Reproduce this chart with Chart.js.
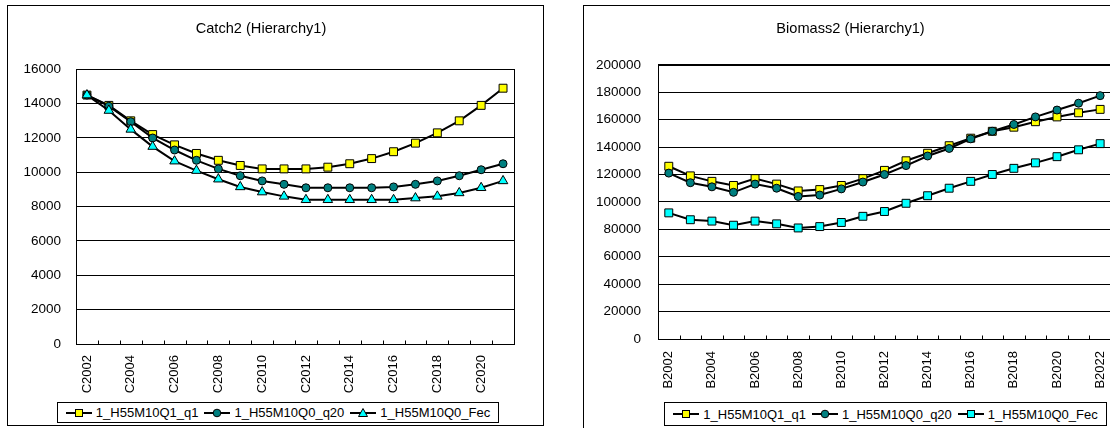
<!DOCTYPE html>
<html>
<head>
<meta charset="utf-8">
<script src="https://cdn.jsdelivr.net/npm/chart.js@4.4.1/dist/chart.umd.min.js"></script>
<style>
  html, body { margin: 0; padding: 0; background: #fff; width: 1110px; height: 428px; overflow: hidden; }
  body { position: relative; font-family: "Liberation Sans", Arial, sans-serif; }
  .box { position: absolute; border: 1px solid #000; box-sizing: border-box; background: #fff; }
  .box canvas { position: absolute; left: 0; top: 0; }
  .legend { position: absolute; border: 1px solid #000; box-sizing: border-box; background: #fff;
            display: flex; align-items: center; justify-content: center; font-size: 13px; color: #000;
            white-space: nowrap; }
  .legend .item { display: flex; align-items: center; margin: 0 3px; }
  .legend svg { margin-right: 4px; }
</style>
</head>
<body>
<div class="box" id="boxCatch" style="left:7px; top:5px; width:537px; height:421px;">
  <canvas id="catchChart" width="535" height="419"></canvas>
</div>
<div class="box" id="boxBio" style="left:583px; top:5px; width:546px; height:428px;">
  <canvas id="bioChart" width="544" height="426"></canvas>
</div>
<div class="legend" id="legCatch" style="left:57px; top:402px; width:442px; height:21px;"></div>
<div class="legend" id="legBio" style="left:664px; top:402px; width:443px; height:24px;"></div>

<script>
// Catch2 (Hierarchy1)
const catchYears = ['C2002','C2003','C2004','C2005','C2006','C2007','C2008','C2009','C2010','C2011',
                    'C2012','C2013','C2014','C2015','C2016','C2017','C2018','C2019','C2020','C2021'];
const catchQ1  = [14500,13900,13000,12200,11600,11100,10700,10400,10200,10200,
                  10200,10300,10500,10800,11200,11700,12300,13000,13900,14900];
const catchQ20 = [14500,13850,12950,12000,11300,10700,10200,9800,9500,9300,
                  9100,9100,9100,9100,9150,9300,9500,9800,10150,10500];
const catchFec = [14500,13600,12500,11500,10650,10100,9600,9150,8850,8600,
                  8400,8400,8400,8400,8400,8500,8600,8800,9100,9500];

// Biomass2 (Hierarchy1)
const bioYears = ['B2002','B2003','B2004','B2005','B2006','B2007','B2008','B2009','B2010','B2011',
                  'B2012','B2013','B2014','B2015','B2016','B2017','B2018','B2019','B2020','B2021','B2022'];
const bioQ1  = [126000,119000,115000,112000,117000,113000,108000,109000,112000,117000,
                123000,130000,135500,141000,146500,151500,154500,158500,162000,165000,167500];
const bioQ20 = [121000,114000,111000,107000,113000,110000,104000,105000,109500,114500,
                120000,126500,133500,139000,146000,151500,156500,162000,167000,172000,177500];
const bioFec = [92000,87000,86000,83000,86000,84000,81000,82000,85000,89500,
                93000,99000,104500,110000,115000,120000,124500,128500,133000,138000,142500];

const seriesNames = ['1_H55M10Q1_q1', '1_H55M10Q0_q20', '1_H55M10Q0_Fec'];
const catchTicks = [0, 2000, 4000, 6000, 8000, 10000, 12000, 14000, 16000];
const bioTicks = [0, 20000, 40000, 60000, 80000, 100000, 120000, 140000, 160000, 180000, 200000];

const FONT = '"Liberation Sans", Arial, sans-serif';
const YELLOW = '#FFFF00', TEAL = '#008080', CYAN = '#00FFFF';

// Plot-area frame and inward category tick marks
const framePlugin = {
  id: 'frame',
  afterDraw(chart) {
    const { ctx, chartArea: a, scales: { x } } = chart;
    ctx.save();
    ctx.strokeStyle = '#000';
    ctx.lineWidth = 1;
    const l = Math.round(a.left) + 0.5, t = Math.round(a.top) + 0.5;
    const r = Math.round(a.right) + 0.5, b = Math.round(a.bottom) + 0.5;
    ctx.strokeRect(l, t, r - l, b - t);
    ctx.beginPath();
    const n = x.getLabels().length;
    for (let i = 0; i <= n; i++) {
      const px = Math.round(x.getPixelForValue(i - 0.5)) + 0.5;
      ctx.moveTo(px, b);
      ctx.lineTo(px, b - 4);
    }
    ctx.stroke();
    ctx.restore();
  }
};

function series(label, data, style, fill, radius, order) {
  return {
    label, data, order,
    borderColor: '#000', borderWidth: 2, tension: 0,
    pointStyle: style, pointRadius: radius, pointHoverRadius: radius,
    pointBackgroundColor: fill, pointBorderColor: '#000', pointBorderWidth: 1,
    fill: false
  };
}

function makeChart(id, cfg) {
  return new Chart(document.getElementById(id), {
    type: 'line',
    data: { labels: cfg.labels, datasets: cfg.datasets },
    options: {
      responsive: false, animation: false, devicePixelRatio: 1,
      layout: { padding: { top: 14.5, left: 0, right: cfg.padRight, bottom: 0 } },
      plugins: {
        legend: { display: false },
        tooltip: { enabled: false },
        title: {
          display: true, text: cfg.title, color: '#000',
          font: { family: FONT, size: 14.6, weight: 'normal' },
          padding: { top: 0, bottom: cfg.titleGap }
        }
      },
      scales: {
        x: {
          type: 'category', offset: true,
          grid: { display: false, drawTicks: false },
          border: { display: true, color: '#000', width: 1 },
          ticks: {
            autoSkip: false, minRotation: 90, maxRotation: 90, padding: cfg.xPad,
            color: '#000', font: { family: FONT, size: 13 },
            callback: (v, i) => (i % 2 === 0 ? cfg.labels[i] : '')
          },
          afterFit: s => { s.height = cfg.xHeight; }
        },
        y: {
          min: cfg.yTicks[0], max: cfg.yTicks[cfg.yTicks.length - 1],
          afterBuildTicks: s => { s.ticks = cfg.yTicks.map(v => ({ value: v })); },
          grid: { color: '#000', lineWidth: 1, drawTicks: false },
          border: { display: true, color: '#000', width: 1 },
          ticks: {
            padding: cfg.yPad, color: '#000', font: { family: FONT, size: 13.5 },
            callback: v => String(v)
          },
          afterFit: s => { s.width = cfg.yWidth; }
        }
      }
    },
    plugins: [framePlugin]
  });
}

makeChart('catchChart', {
  title: 'Catch2 (Hierarchy1)',
  labels: catchYears,
  yTicks: catchTicks,
  padRight: 29, titleGap: 31.3, xPad: 11, xHeight: 81, yPad: 15, yWidth: 68,
  datasets: [
    series(seriesNames[0], catchQ1, 'rect', YELLOW, 5.6, 2),
    series(seriesNames[1], catchQ20, 'circle', TEAL, 4, 1),
    series(seriesNames[2], catchFec, 'triangle', CYAN, 5.5, 0)
  ]
});

makeChart('bioChart', {
  title: 'Biomass2 (Hierarchy1)',
  labels: bioYears,
  yTicks: bioTicks,
  padRight: 11, titleGap: 26.8, xPad: 12, xHeight: 93, yPad: 17, yWidth: 74,
  datasets: [
    series(seriesNames[0], bioQ1, 'rect', YELLOW, 5.6, 2),
    series(seriesNames[1], bioQ20, 'circle', TEAL, 4, 1),
    series(seriesNames[2], bioFec, 'rect', CYAN, 5.6, 0)
  ]
});

// Legend rows: line-with-marker symbol followed by the series name
function symbol(kind, fill) {
  const ns = 'http://www.w3.org/2000/svg';
  const svg = document.createElementNS(ns, 'svg');
  svg.setAttribute('width', '26'); svg.setAttribute('height', '12');
  const line = document.createElementNS(ns, 'line');
  line.setAttribute('x1', '0'); line.setAttribute('y1', '6');
  line.setAttribute('x2', '26'); line.setAttribute('y2', '6');
  line.setAttribute('stroke', '#000'); line.setAttribute('stroke-width', '2');
  svg.appendChild(line);
  let m;
  if (kind === 'rect') {
    m = document.createElementNS(ns, 'rect');
    m.setAttribute('x', '9.5'); m.setAttribute('y', '2.5');
    m.setAttribute('width', '7'); m.setAttribute('height', '7');
  } else if (kind === 'circle') {
    m = document.createElementNS(ns, 'circle');
    m.setAttribute('cx', '13'); m.setAttribute('cy', '6'); m.setAttribute('r', '3.8');
  } else {
    m = document.createElementNS(ns, 'polygon');
    m.setAttribute('points', '13,1.5 17.5,9.5 8.5,9.5');
  }
  m.setAttribute('fill', fill); m.setAttribute('stroke', '#000'); m.setAttribute('stroke-width', '1');
  svg.appendChild(m);
  return svg;
}

function buildLegend(id, kinds, fills) {
  const el = document.getElementById(id);
  seriesNames.forEach((name, i) => {
    const item = document.createElement('div');
    item.className = 'item';
    item.appendChild(symbol(kinds[i], fills[i]));
    const span = document.createElement('span');
    span.textContent = name;
    item.appendChild(span);
    el.appendChild(item);
  });
}

buildLegend('legCatch', ['rect', 'circle', 'triangle'], [YELLOW, TEAL, CYAN]);
buildLegend('legBio', ['rect', 'circle', 'rect'], [YELLOW, TEAL, CYAN]);
</script>
</body>
</html>
